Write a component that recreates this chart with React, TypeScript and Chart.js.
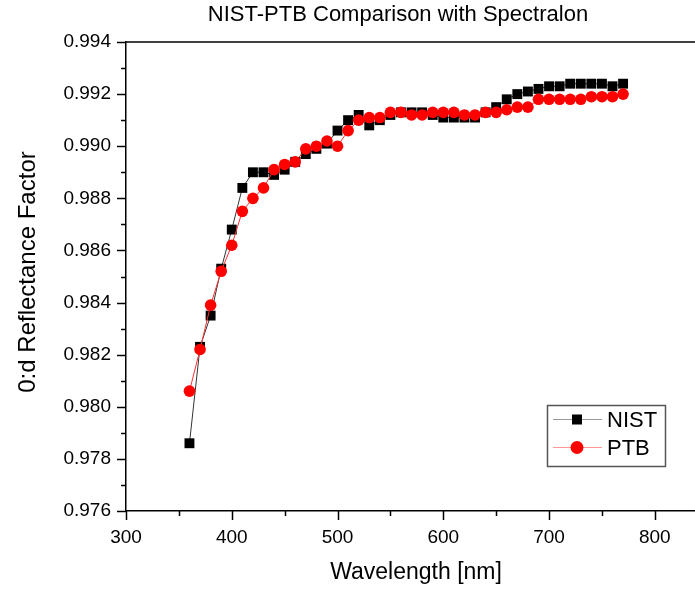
import React, { useEffect, useRef } from "react";
import { Chart, registerables } from "chart.js";

Chart.register(...registerables);

const wavelengths = [
  360, 370, 380, 390, 400, 410, 420, 430, 440, 450, 460, 470, 480, 490,
  500, 510, 520, 530, 540, 550, 560, 570, 580, 590, 600, 610, 620, 630,
  640, 650, 660, 670, 680, 690, 700, 710, 720, 730, 740, 750, 760, 770,
];

const nistValues = [
  0.9786, 0.9823, 0.9835, 0.9853, 0.9868, 0.9884, 0.989, 0.989, 0.9889, 0.9891,
  0.9894, 0.9897, 0.9899, 0.9901, 0.9906, 0.991, 0.9912, 0.9908, 0.991, 0.9912,
  0.9913, 0.9913, 0.9913, 0.9912, 0.9911, 0.9911, 0.9911, 0.9911, 0.9913, 0.9915,
  0.9918, 0.992, 0.9921, 0.9922, 0.9923, 0.9923, 0.9924, 0.9924, 0.9924, 0.9924,
  0.9923, 0.9924,
];

const ptbValues = [
  0.9806, 0.9822, 0.9839, 0.9852, 0.9862, 0.9875, 0.988, 0.9884, 0.9891, 0.9893,
  0.9894, 0.9899, 0.99, 0.9902, 0.99, 0.9906, 0.991, 0.9911, 0.9911, 0.9913,
  0.9913, 0.9912, 0.9912, 0.9913, 0.9913, 0.9913, 0.9912, 0.9912, 0.9913, 0.9913,
  0.9914, 0.9915, 0.9915, 0.9918, 0.9918, 0.9918, 0.9918, 0.9918, 0.9919, 0.9919,
  0.9919, 0.992,
];

const xMajorTicks = [300, 400, 500, 600, 700, 800];
const xMinorTicks = [350, 450, 550, 650, 750, 850];
const yMajorTicks = [0.976, 0.978, 0.98, 0.982, 0.984, 0.986, 0.988, 0.99, 0.992, 0.994];
const yMinorTicks = [0.977, 0.979, 0.981, 0.983, 0.985, 0.987, 0.989, 0.991, 0.993];

const chartTitle = "NIST-PTB Comparison with Spectralon";
const xTitle = "Wavelength [nm]";
const yTitle = "0:d Reflectance Factor";
const seriesNames = ["NIST", "PTB"];

const FONT = "'Liberation Sans', Arial, Helvetica, sans-serif";

const decorPlugin = {
  id: "decor",
  afterDraw(chart: any) {
    const { ctx, chartArea, scales } = chart;
    const xs = scales.x;
    const ys = scales.y;
    ctx.save();
    ctx.strokeStyle = "#000";
    ctx.lineWidth = 1.5;
    // top frame line
    ctx.beginPath();
    ctx.moveTo(chartArea.left, chartArea.top);
    ctx.lineTo(chart.width, chartArea.top);
    ctx.stroke();
    // y ticks
    const drawY = (v: number, len: number) => {
      const y = Math.round(ys.getPixelForValue(v)) + 0.5;
      ctx.beginPath();
      ctx.moveTo(chartArea.left, y);
      ctx.lineTo(chartArea.left - len, y);
      ctx.stroke();
    };
    yMajorTicks.forEach((v) => drawY(v, 9));
    yMinorTicks.forEach((v) => drawY(v, 5));
    const drawX = (v: number, len: number) => {
      const x = Math.round(xs.getPixelForValue(v)) + 0.5;
      if (x > chart.width) return;
      ctx.beginPath();
      ctx.moveTo(x, chartArea.bottom);
      ctx.lineTo(x, chartArea.bottom + len);
      ctx.stroke();
    };
    xMajorTicks.forEach((v) => drawX(v, 9));
    xMinorTicks.forEach((v) => drawX(v, 5));

    // titles
    ctx.fillStyle = "#000";
    ctx.textAlign = "center";
    ctx.textBaseline = "middle";
    ctx.font = `22px ${FONT}`;
    ctx.fillText(chartTitle, 398, 15);
    ctx.font = `23px ${FONT}`;
    ctx.fillText(xTitle, 416, 573);
    ctx.save();
    ctx.translate(28, 272);
    ctx.rotate(-Math.PI / 2);
    ctx.font = `24px ${FONT}`;
    ctx.fillText(yTitle, 0, 0);
    ctx.restore();

    // legend
    const bx = 547.5, by = 405.5, bw = 118, bh = 61;
    ctx.fillStyle = "#fff";
    ctx.fillRect(bx, by, bw, bh);
    ctx.strokeStyle = "#555";
    ctx.lineWidth = 1.5;
    ctx.strokeRect(bx, by, bw, bh);
    const rows = [
      { y: 419.5, line: "#999", name: seriesNames[0], marker: "rect" },
      { y: 447.5, line: "#f99", name: seriesNames[1], marker: "circle" },
    ];
    rows.forEach((r) => {
      ctx.strokeStyle = r.line;
      ctx.lineWidth = 1;
      ctx.beginPath();
      ctx.moveTo(553, r.y);
      ctx.lineTo(602, r.y);
      ctx.stroke();
      if (r.marker === "rect") {
        ctx.fillStyle = "#000";
        ctx.fillRect(577 - 5, r.y - 5, 10, 10);
      } else {
        ctx.fillStyle = "#ff0000";
        ctx.beginPath();
        ctx.arc(577, r.y, 6.5, 0, Math.PI * 2);
        ctx.fill();
      }
      ctx.fillStyle = "#000";
      ctx.textAlign = "left";
      ctx.textBaseline = "middle";
      ctx.font = `22px ${FONT}`;
      ctx.fillText(r.name, 607, r.y + 1);
    });
    ctx.restore();
  },
};

export default function App() {
  const canvasRef = useRef<HTMLCanvasElement | null>(null);

  useEffect(() => {
    const canvas = canvasRef.current;
    if (!canvas) return;
    const chart = new Chart(canvas, {
      type: "line",
      data: {
        datasets: [
          {
            label: seriesNames[0],
            data: wavelengths.map((w, i) => ({ x: w, y: nistValues[i] })),
            borderColor: "#333",
            borderWidth: 1,
            backgroundColor: "#000",
            pointStyle: "rect",
            pointRadius: 7,
            pointBorderWidth: 0,
            pointBackgroundColor: "#000",
            tension: 0,
            order: 2,
          },
          {
            label: seriesNames[1],
            data: wavelengths.map((w, i) => ({ x: w, y: ptbValues[i] })),
            borderColor: "#ff3030",
            borderWidth: 1,
            backgroundColor: "#ff0000",
            pointStyle: "circle",
            pointRadius: 5.8,
            pointBorderWidth: 0,
            pointBackgroundColor: "#ff0000",
            tension: 0,
            order: 1,
          },
        ],
      },
      options: {
        animation: false,
        responsive: false,
        devicePixelRatio: 1,
        layout: { autoPadding: false, padding: { top: 42, left: 0, right: 0, bottom: 0 } },
        plugins: {
          legend: { display: false },
          title: { display: false },
          tooltip: { enabled: false },
        },
        scales: {
          x: {
            type: "linear",
            min: 300,
            max: 838,
            afterBuildTicks: (scale: any) => {
              scale.ticks = xMajorTicks.map((v) => ({ value: v }));
            },
            afterFit: (scale: any) => {
              scale.height = 79;
              scale.paddingLeft = 0;
              scale.paddingRight = 0;
            },
            grid: { display: false, drawTicks: false },
            border: { display: true, color: "#000", width: 1.5 },
            ticks: {
              color: "#000",
              font: { family: FONT, size: 19 },
              padding: 15,
              maxRotation: 0,
              autoSkip: false,
            },
          },
          y: {
            type: "linear",
            min: 0.976,
            max: 0.994,
            afterBuildTicks: (scale: any) => {
              scale.ticks = yMajorTicks.map((v) => ({ value: v }));
            },
            afterFit: (scale: any) => {
              scale.width = 126;
              scale.paddingTop = 0;
              scale.paddingBottom = 0;
            },
            grid: { display: false, drawTicks: false },
            border: { display: true, color: "#000", width: 1.5 },
            ticks: {
              color: "#000",
              font: { family: FONT, size: 19 },
              padding: 15,
              autoSkip: false,
              callback: (v: any) => Number(v).toFixed(3),
            },
          },
        },
      },
      plugins: [decorPlugin],
    } as any);
    return () => chart.destroy();
  }, []);

  return (
    <div style={{ position: "absolute", left: 0, top: 0, width: 695, height: 590, background: "#fff" }}>
      <canvas ref={canvasRef} width={695} height={590} />
    </div>
  );
}
